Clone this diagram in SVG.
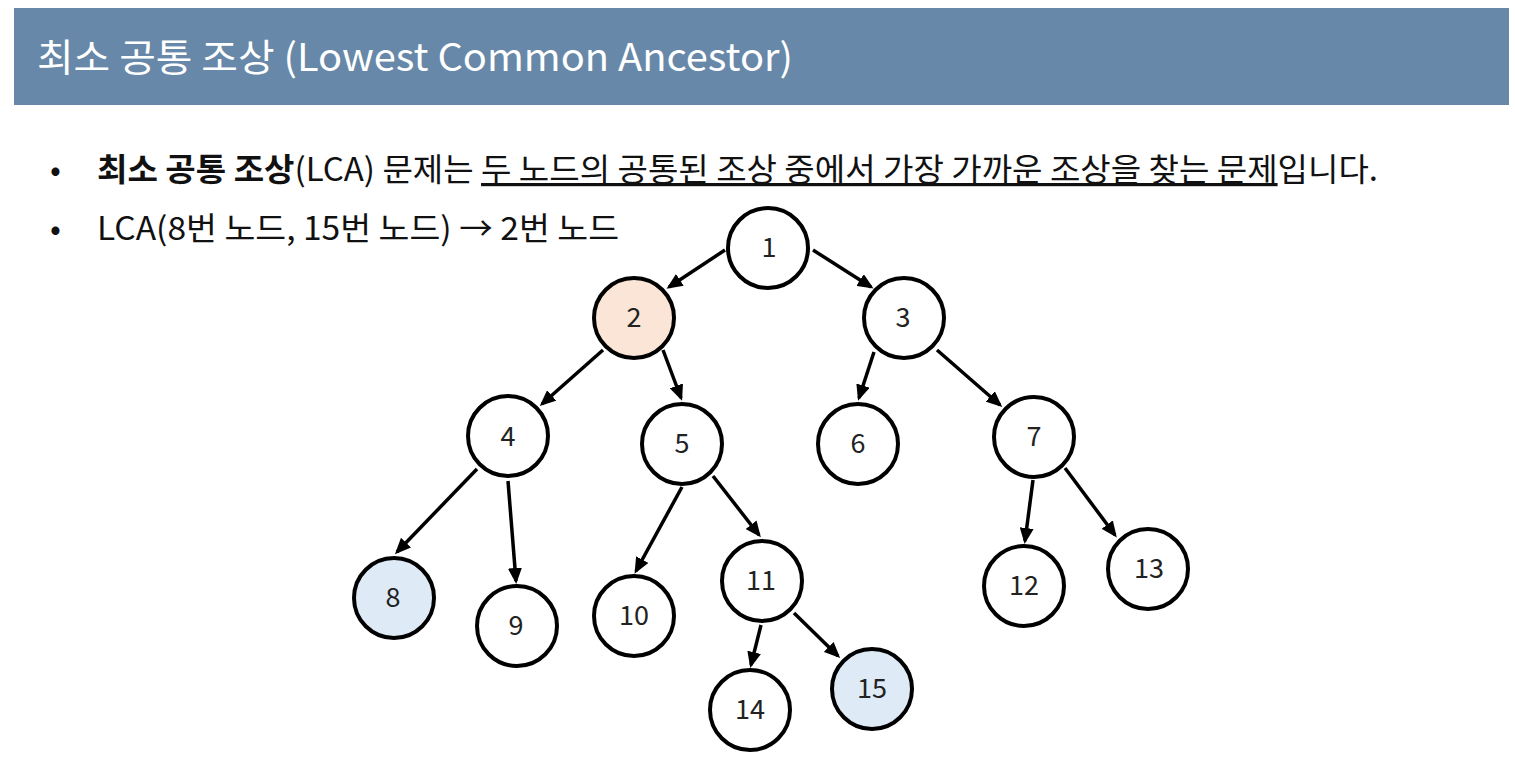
<svg xmlns="http://www.w3.org/2000/svg" width="1515" height="758" viewBox="0 0 1515 758">
<style>
  .kr { font-family: "Noto Sans CJK KR", "Noto Sans", sans-serif; }
  .title { font-size: 38px; fill: #ffffff; font-weight: 400; }
  .body { font-size: 32px; fill: #111111; font-weight: 400; }
  .b { font-weight: 700; }
  .u { text-decoration: underline; }
  .node circle { fill: #ffffff; stroke: #000000; stroke-width: 4; }
  .node text { font-family: "Noto Sans CJK KR", "Noto Sans", sans-serif; font-size: 27px; font-weight: 400; fill: #222222; text-anchor: middle; }
  .lca circle { fill: #FBE5D6; }
  .target circle { fill: #DEEBF7; }
  .edges line { stroke: #000000; stroke-width: 3.5; marker-end: url(#arrow); }
</style>
<defs>
  <marker id="arrow" markerUnits="userSpaceOnUse" markerWidth="16" markerHeight="14" refX="13" refY="7" orient="auto">
    <path d="M0,0 L16,7 L0,14 z" fill="#000000"/>
  </marker>
</defs>
<rect x="0" y="0" width="1515" height="758" fill="#ffffff"/>
<g id="header">
  <rect x="14" y="8" width="1495" height="97" fill="#6788A8"/>
  <text class="kr title" x="37" y="71" textLength="756" lengthAdjust="spacingAndGlyphs">최소 공통 조상 (Lowest Common Ancestor)</text>
</g>
<g id="bullets">
  <text class="kr body" x="50" y="181">•</text>
  <text class="kr body" x="97" y="181" textLength="1281" lengthAdjust="spacingAndGlyphs"><tspan class="b">최소 공통 조상</tspan>(LCA) 문제는 <tspan class="u">두 노드의 공통된 조상 중에서 가장 가까운 조상을 찾는 문제</tspan>입니다.</text>
  <text class="kr body" x="50" y="240">•</text>
  <text class="kr body" x="97" y="240" textLength="522" lengthAdjust="spacingAndGlyphs">LCA(8번 노드, 15번 노드) → 2번 노드</text>
</g>
<g id="connectors" class="edges">
  <line x1="725" y1="250" x2="669" y2="287"/>
  <line x1="813" y1="250" x2="871" y2="287"/>
  <line x1="603" y1="350" x2="542" y2="404"/>
  <line x1="663" y1="350" x2="681" y2="398"/>
  <line x1="874" y1="352" x2="859" y2="398"/>
  <line x1="937" y1="350" x2="1000" y2="405"/>
  <line x1="477" y1="469" x2="397" y2="552"/>
  <line x1="508" y1="481" x2="516" y2="581"/>
  <line x1="682" y1="487" x2="636" y2="571"/>
  <line x1="713" y1="476" x2="759" y2="535"/>
  <line x1="761" y1="625" x2="751" y2="665"/>
  <line x1="794" y1="613" x2="838" y2="656"/>
  <line x1="1033" y1="480" x2="1025" y2="541"/>
  <line x1="1065" y1="468" x2="1115" y2="535"/>
</g>
<g id="node1" class="node"><circle cx="768" cy="248" r="40"/><text x="769" y="257">1</text></g>
<g id="node2" class="node lca"><circle cx="634" cy="318" r="40"/><text x="634" y="327">2</text></g>
<g id="node3" class="node"><circle cx="904" cy="318" r="40"/><text x="903" y="327">3</text></g>
<g id="node4" class="node"><circle cx="508" cy="436" r="40"/><text x="508" y="446">4</text></g>
<g id="node5" class="node"><circle cx="682" cy="444" r="40"/><text x="682" y="453">5</text></g>
<g id="node6" class="node"><circle cx="858" cy="444" r="40"/><text x="858" y="453">6</text></g>
<g id="node7" class="node"><circle cx="1034" cy="437" r="40"/><text x="1034" y="446">7</text></g>
<g id="node8" class="node target"><circle cx="394" cy="598" r="40"/><text x="393" y="607">8</text></g>
<g id="node9" class="node"><circle cx="517" cy="626" r="40"/><text x="516" y="635">9</text></g>
<g id="node10" class="node"><circle cx="634" cy="616" r="40"/><text x="634" y="625">10</text></g>
<g id="node11" class="node"><circle cx="762" cy="581" r="40"/><text x="761" y="590">11</text></g>
<g id="node12" class="node"><circle cx="1024" cy="586" r="40"/><text x="1024" y="595">12</text></g>
<g id="node13" class="node"><circle cx="1148" cy="569" r="40"/><text x="1149" y="578">13</text></g>
<g id="node14" class="node"><circle cx="750" cy="710" r="40"/><text x="750" y="719">14</text></g>
<g id="node15" class="node target"><circle cx="872" cy="689" r="40"/><text x="872" y="698">15</text></g>
</svg>
